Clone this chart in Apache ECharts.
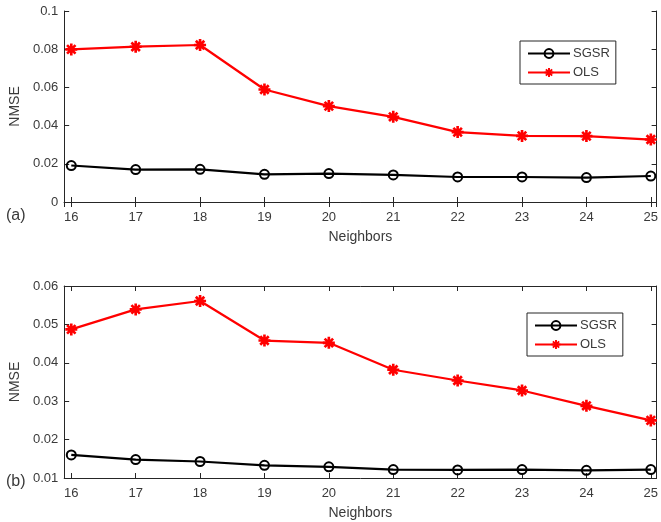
<!DOCTYPE html>
<html>
<head>
<meta charset="utf-8">
<script src="https://cdn.jsdelivr.net/npm/echarts@6/dist/echarts.min.js"></script>
<style>
html,body{margin:0;padding:0;background:#fff;}
#chart{width:661px;height:522px;}
</style>
</head>
<body>
<div id="chart"></div>
<script>
// ---- data ----
var neighbors = [16, 17, 18, 19, 20, 21, 22, 23, 24, 25];
var sgsrA = [0.0191, 0.0170, 0.0171, 0.0145, 0.0149, 0.0142, 0.0131, 0.0131, 0.0128, 0.0136];
var olsA  = [0.0799, 0.0813, 0.0822, 0.0589, 0.0502, 0.0446, 0.0366, 0.0346, 0.0345, 0.0327];
var sgsrB = [0.0160, 0.0148, 0.0143, 0.0133, 0.0129, 0.0122, 0.0121, 0.0122, 0.0120, 0.0122];
var olsB  = [0.0487, 0.0539, 0.0561, 0.0458, 0.0452, 0.0382, 0.0354, 0.0328, 0.0288, 0.0250];
var seriesNames = ['SGSR', 'OLS'];
var panelLabels = ['(a)', '(b)'];

function pairs(xs, ys) { return xs.map(function (x, i) { return [x, ys[i]]; }); }

var FONT = '"Liberation Sans", Arial, Helvetica, sans-serif';
var AX = '#262626';
var TXT = '#3a3a3a';
var STAR = 'path://M7.8,0 L12.2,0 L12.2,20 L7.8,20 Z M0,7.8 L20,7.8 L20,12.2 L0,12.2 Z M4.5,1.37 L18.63,15.5 L15.5,18.63 L1.37,4.5 Z M15.5,1.37 L18.63,4.5 L4.5,18.63 L1.37,15.5 Z';

function xAxes(gi) {
  var base = {
    type: 'value', gridIndex: gi, min: 15.89, max: 25.09,
    splitNumber: 9, minInterval: 1, maxInterval: 1,
    axisLine: { show: true, lineStyle: { color: AX, width: 1 } },
    axisTick: { show: true, inside: true, length: 5, lineStyle: { color: AX } },
    splitLine: { show: false }
  };
  var bottom = Object.assign({}, base, {
    position: 'bottom',
    name: 'Neighbors', nameLocation: 'middle', nameGap: 28,
    nameTextStyle: { fontFamily: FONT, fontSize: 14, color: TXT },
    axisLabel: {
      show: true, margin: 9, fontFamily: FONT, fontSize: 13, color: TXT,
      formatter: function (v) { return Math.abs(v - Math.round(v)) < 1e-6 ? String(Math.round(v)) : ''; }
    }
  });
  var top = Object.assign({}, base, { position: 'top', axisLabel: { show: false } });
  return [bottom, top];
}
function yAxes(gi, mn, mx, step) {
  var base = {
    type: 'value', gridIndex: gi, min: mn, max: mx, interval: step,
    axisLine: { show: true, lineStyle: { color: AX, width: 1 } },
    axisTick: { show: true, inside: true, length: 5, lineStyle: { color: AX } },
    splitLine: { show: false }
  };
  var left = Object.assign({}, base, {
    position: 'left',
    name: 'NMSE', nameLocation: 'middle', nameGap: 39,
    nameTextStyle: { fontFamily: FONT, fontSize: 14, color: TXT },
    axisLabel: { show: true, margin: 6, fontFamily: FONT, fontSize: 13, color: TXT }
  });
  var right = Object.assign({}, base, { position: 'right', axisLabel: { show: false } });
  return [left, right];
}
function makeSeries(gi, sgsr, ols) {
  var xi = gi * 2, yi = gi * 2;
  return [
    {
      name: seriesNames[0], type: 'line', xAxisIndex: xi, yAxisIndex: yi,
      data: pairs(neighbors, sgsr), symbol: 'circle', symbolSize: 9,
      lineStyle: { color: '#000', width: 2.2 },
      itemStyle: { color: 'rgba(0,0,0,0)', borderColor: '#000', borderWidth: 2 },
      emphasis: { disabled: true }, animation: false, z: 3
    },
    {
      name: seriesNames[1], type: 'line', xAxisIndex: xi, yAxisIndex: yi,
      data: pairs(neighbors, ols), symbol: STAR, symbolSize: 12,
      lineStyle: { color: '#ff0000', width: 2.2 },
      itemStyle: { color: '#ff0000', borderWidth: 0 },
      emphasis: { disabled: true }, animation: false, z: 4
    }
  ];
}
function makeLegend(left, top) {
  return {
    data: seriesNames, orient: 'vertical', left: left, top: top,
    itemWidth: 42, itemHeight: 11, itemGap: 6,
    padding: [6, 6, 5, 7],
    borderColor: AX, borderWidth: 1, backgroundColor: '#fff',
    textStyle: { fontFamily: FONT, fontSize: 13, color: TXT, padding: [0, 0, 0, -2] },
    selectedMode: false
  };
}

var chart = echarts.init(document.getElementById('chart'), null, { renderer: 'canvas' });
var xa = xAxes(0).concat(xAxes(1));
var ya = yAxes(0, 0, 0.1, 0.02).concat(yAxes(1, 0.01, 0.06, 0.01));
chart.setOption({
  backgroundColor: '#fff',
  animation: false,
  title: [
    { text: panelLabels[0], left: 6, top: 208, textStyle: { fontFamily: FONT, fontSize: 16, fontWeight: 'normal', color: TXT }, padding: 0 },
    { text: panelLabels[1], left: 6, top: 474, textStyle: { fontFamily: FONT, fontSize: 16, fontWeight: 'normal', color: TXT }, padding: 0 }
  ],
  grid: [
    { left: 59, top: 11, width: 601, height: 191, show: false },
    { left: 59, top: 286, width: 601, height: 192, show: false }
  ],
  legend: [makeLegend(520, 41), makeLegend(527, 313)],
  xAxis: xa,
  yAxis: ya,
  series: makeSeries(0, sgsrA, olsA).concat(makeSeries(1, sgsrB, olsB))
});
</script>
</body>
</html>
